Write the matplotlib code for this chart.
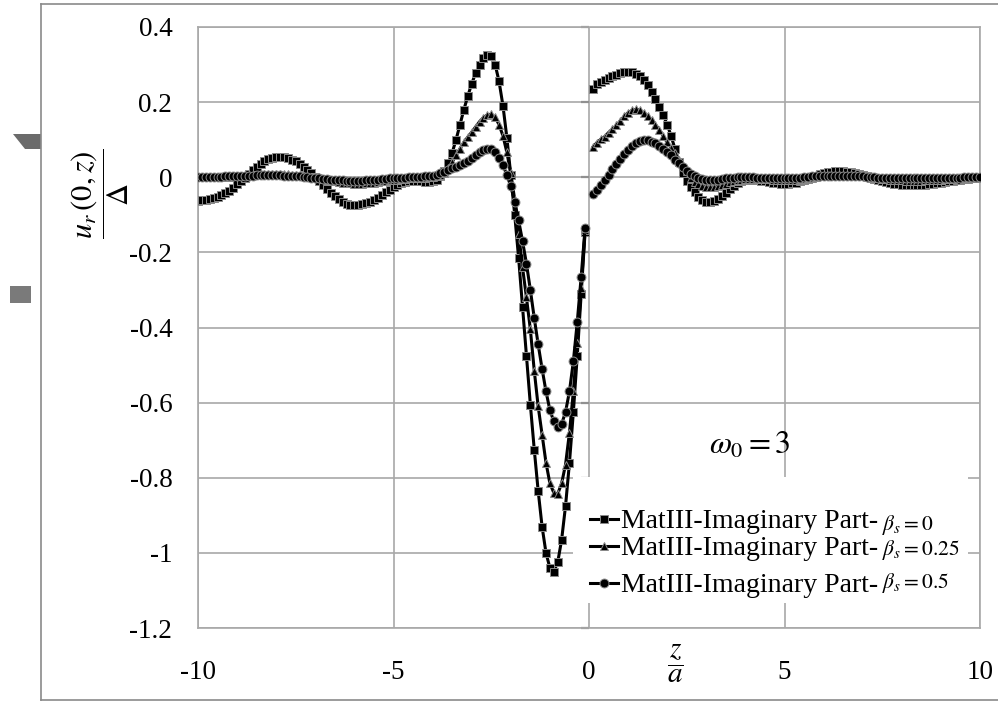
import numpy as np
import matplotlib
matplotlib.use("Agg")
import matplotlib.pyplot as plt
from matplotlib.lines import Line2D
from matplotlib.patches import Polygon, Rectangle

plt.rcParams["font.family"] = ["Liberation Serif", "DejaVu Serif"]
plt.rcParams["mathtext.fontset"] = "stix"

W, H = 998, 702

# sample positions (0.1 steps on either side of the source plane)
z_left = np.arange(-100, 0) / 10.0
z_right = np.arange(1, 101) / 10.0

# beta_s = 0
b0_left = [
    -0.062, -0.061, -0.060, -0.058, -0.055, -0.052, -0.047, -0.042, -0.036, -0.028,
    -0.019, -0.010, -0.001, 0.009, 0.019, 0.028, 0.036, 0.043, 0.048, 0.052,
    0.054, 0.054, 0.053, 0.051, 0.047, 0.042, 0.036, 0.028, 0.020, 0.011,
    0.001, -0.010, -0.020, -0.031, -0.042, -0.051, -0.059, -0.065, -0.070, -0.073,
    -0.074, -0.074, -0.072, -0.069, -0.065, -0.060, -0.054, -0.047, -0.040, -0.033,
    -0.027, -0.021, -0.016, -0.013, -0.011, -0.010, -0.010, -0.011, -0.012, -0.012,
    -0.011, -0.006, 0.003, 0.016, 0.037, 0.065, 0.100, 0.140, 0.180, 0.216,
    0.249, 0.277, 0.300, 0.317, 0.325, 0.322, 0.300, 0.255, 0.190, 0.105,
    0.005, -0.100, -0.215, -0.345, -0.475, -0.605, -0.725, -0.835, -0.930, -1.000,
    -1.040, -1.050, -1.025, -0.965, -0.875, -0.760, -0.625, -0.475, -0.310, -0.145,
]
b0_right = [
    0.235, 0.247, 0.254, 0.259, 0.264, 0.269, 0.273, 0.277, 0.279, 0.280,
    0.279, 0.276, 0.269, 0.259, 0.245, 0.228, 0.207, 0.186, 0.165, 0.140,
    0.110, 0.075, 0.040, 0.012, -0.010, -0.027, -0.040, -0.052, -0.060, -0.065,
    -0.066, -0.063, -0.058, -0.050, -0.041, -0.031, -0.023, -0.016, -0.011, -0.008,
    -0.007, -0.007, -0.008, -0.009, -0.011, -0.013, -0.015, -0.016, -0.017, -0.017,
    -0.017, -0.016, -0.014, -0.011, -0.008, -0.004, 0.000, 0.004, 0.008, 0.011,
    0.013, 0.015, 0.016, 0.016, 0.016, 0.015, 0.013, 0.011, 0.008, 0.005,
    0.002, -0.002, -0.005, -0.008, -0.011, -0.013, -0.015, -0.017, -0.019, -0.020,
    -0.021, -0.021, -0.021, -0.021, -0.021, -0.020, -0.019, -0.018, -0.016, -0.014,
    -0.013, -0.011, -0.010, -0.008, -0.007, -0.005, -0.004, -0.003, -0.002, -0.001,
]

# beta_s = 0.25
b25_left = [
    0.000, 0.000, 0.001, 0.001, 0.001, 0.001, 0.001, 0.001, 0.001, 0.002,
    0.002, 0.003, 0.004, 0.005, 0.006, 0.007, 0.008, 0.008, 0.009, 0.009,
    0.009, 0.009, 0.009, 0.008, 0.007, 0.006, 0.005, 0.004, 0.003, 0.001,
    0.000, -0.002, -0.004, -0.006, -0.008, -0.010, -0.012, -0.014, -0.015, -0.016,
    -0.017, -0.017, -0.017, -0.016, -0.015, -0.014, -0.013, -0.011, -0.010, -0.008,
    -0.007, -0.006, -0.005, -0.004, -0.003, -0.003, -0.002, -0.002, -0.001, 0.000,
    0.001, 0.003, 0.006, 0.011, 0.024, 0.041, 0.058, 0.076, 0.093, 0.107,
    0.120, 0.134, 0.148, 0.159, 0.166, 0.168, 0.160, 0.140, 0.110, 0.066,
    0.010, -0.060, -0.150, -0.240, -0.320, -0.405, -0.515, -0.610, -0.685, -0.760,
    -0.815, -0.840, -0.843, -0.815, -0.765, -0.680, -0.570, -0.440, -0.295, -0.140,
]
b25_right = [
    0.080, 0.092, 0.101, 0.108, 0.119, 0.128, 0.138, 0.150, 0.162, 0.172,
    0.178, 0.181, 0.179, 0.172, 0.164, 0.152, 0.140, 0.127, 0.109, 0.093,
    0.079, 0.064, 0.047, 0.031, 0.016, -0.003, -0.012, -0.018, -0.023, -0.026,
    -0.026, -0.026, -0.024, -0.021, -0.018, -0.013, -0.010, -0.008, -0.006, -0.005,
    -0.004, -0.004, -0.004, -0.004, -0.005, -0.005, -0.006, -0.006, -0.007, -0.007,
    -0.007, -0.007, -0.006, -0.005, -0.004, -0.003, -0.001, 0.000, 0.002, 0.003,
    0.004, 0.005, 0.006, 0.007, 0.007, 0.007, 0.006, 0.005, 0.004, 0.003,
    0.001, 0.000, -0.001, -0.003, -0.004, -0.005, -0.006, -0.007, -0.008, -0.008,
    -0.009, -0.009, -0.009, -0.009, -0.009, -0.008, -0.008, -0.007, -0.006, -0.006,
    -0.005, -0.004, -0.004, -0.003, -0.002, -0.002, -0.001, -0.001, 0.000, 0.000,
]

# beta_s = 0.5
b50_left = [
    0.001, 0.001, 0.001, 0.001, 0.001, 0.001, 0.001, 0.002, 0.002, 0.002,
    0.002, 0.003, 0.003, 0.004, 0.004, 0.005, 0.005, 0.005, 0.005, 0.005,
    0.005, 0.005, 0.004, 0.004, 0.003, 0.003, 0.002, 0.001, 0.000, -0.001,
    -0.002, -0.003, -0.004, -0.005, -0.006, -0.007, -0.008, -0.008, -0.009, -0.009,
    -0.009, -0.009, -0.009, -0.008, -0.008, -0.007, -0.006, -0.005, -0.004, -0.003,
    -0.002, -0.002, -0.001, -0.001, 0.000, 0.000, 0.001, 0.001, 0.002, 0.003,
    0.004, 0.007, 0.010, 0.014, 0.019, 0.024, 0.028, 0.033, 0.038, 0.044,
    0.052, 0.060, 0.066, 0.073, 0.076, 0.075, 0.068, 0.052, 0.032, 0.006,
    -0.024, -0.065, -0.115, -0.170, -0.230, -0.300, -0.375, -0.445, -0.510, -0.570,
    -0.620, -0.650, -0.666, -0.657, -0.625, -0.570, -0.490, -0.385, -0.265, -0.135,
]
b50_right = [
    -0.045, -0.033, -0.021, -0.007, 0.007, 0.021, 0.034, 0.048, 0.062, 0.073,
    0.083, 0.091, 0.097, 0.100, 0.100, 0.095, 0.090, 0.084, 0.076, 0.068,
    0.058, 0.047, 0.037, 0.026, 0.016, 0.008, 0.002, -0.002, -0.005, -0.006,
    -0.007, -0.008, -0.007, -0.005, -0.003, -0.002, -0.001, 0.000, 0.000, 0.000,
    0.000, 0.000, -0.001, -0.001, -0.001, -0.002, -0.002, -0.002, -0.002, -0.002,
    -0.002, -0.002, -0.001, -0.001, 0.000, 0.001, 0.002, 0.002, 0.003, 0.003,
    0.004, 0.004, 0.004, 0.004, 0.004, 0.004, 0.003, 0.003, 0.002, 0.002,
    0.001, 0.000, 0.000, -0.001, -0.001, -0.002, -0.002, -0.002, -0.003, -0.003,
    -0.003, -0.003, -0.003, -0.003, -0.003, -0.003, -0.002, -0.002, -0.002, -0.002,
    -0.001, -0.001, -0.001, -0.001, -0.001, 0.000, 0.000, 0.000, 0.000, 0.000,
]

beta_labels = [r"$\beta_s = 0$", r"$\beta_s = 0.25$", r"$\beta_s = 0.5$"]
legend_text = "MatIII-Imaginary Part-"

x_ticks = [-10, -5, 0, 5, 10]
y_ticks = [0.4, 0.2, 0, -0.2, -0.4, -0.6, -0.8, -1, -1.2]
y_ticklabels = ["0.4", "0.2", "0", "-0.2", "-0.4", "-0.6", "-0.8", "-1", "-1.2"]

GRID = "#a8a8a8"
EDGE = "#8a8a8a"


def px(x, y):
    """Pixel position -> figure fraction."""
    return x / W, 1 - y / H


fig = plt.figure(figsize=(W / 100, H / 100), dpi=100)
ax = fig.add_axes([198 / W, 1 - 628 / H, (980 - 198) / W, (628 - 27) / H])

ax.set_xlim(-10, 10)
ax.set_ylim(-1.2, 0.4)
ax.set_xticks(x_ticks)
ax.set_xticklabels([str(t) for t in x_ticks])
ax.set_yticks(y_ticks)
ax.set_yticklabels(y_ticklabels)
ax.tick_params(length=0, labelsize=19.5, colors="black")
ax.tick_params(axis="y", pad=18.5)
ax.tick_params(axis="x", pad=23)
ax.grid(True, color=GRID, linewidth=1.2, zorder=0)
ax.set_axisbelow(True)
for sp in ax.spines.values():
    sp.set_color(GRID)
    sp.set_linewidth(1.2)

# vertical axis crosses at z = 0 with short outside ticks
for yt in y_ticks:
    ax.plot([-0.2, 0], [yt, yt], color="#909090", lw=1.6, zorder=1,
            clip_on=False, solid_capstyle="butt")

styles = [
    dict(marker="s", markersize=5.4),
    dict(marker="^", markersize=5.4),
    dict(marker="o", markersize=6.4),
]
series = [(b0_left, b0_right), (b25_left, b25_right), (b50_left, b50_right)]
for (left, right), st in zip(series, styles):
    for zz, vv in ((z_left, left), (z_right, right)):
        ax.plot(zz, vv, color="black", lw=2.2, markerfacecolor="black",
                markeredgecolor="#8a8a8a", markeredgewidth=0.7, zorder=3, **st)

# legend: white panel, handles and two-size labels
x0, y0 = px(573, 603)
x1, y1 = px(968, 477)
fig.add_artist(Rectangle((x0, y0), x1 - x0, y1 - y0, transform=fig.transFigure,
                         facecolor="white", edgecolor="none", zorder=2.5))
entry_mid = [519, 546, 583]
entry_base = [528, 555, 592]
beta_base = [530, 555, 588]
for i, st in enumerate(styles):
    _, ym = px(0, entry_mid[i])
    hx0, _ = px(590, 0)
    hx1, _ = px(618, 0)
    fig.add_artist(Line2D([hx0, hx1], [ym, ym], transform=fig.transFigure,
                          color="black", lw=2.2, zorder=4))
    fig.add_artist(Line2D([(hx0 + hx1) / 2], [ym], transform=fig.transFigure,
                          color="black", markerfacecolor="black",
                          markeredgecolor="#8a8a8a", markeredgewidth=0.7,
                          linestyle="none", zorder=4, **st))
    fig.text(*px(621, entry_base[i]), legend_text, fontsize=20,
             ha="left", va="baseline", zorder=5)
    fig.text(*px(882, beta_base[i]), beta_labels[i], fontsize=15.5,
             ha="left", va="baseline", zorder=5)

fig.text(*px(750, 446), r"$\omega_0 = 3$", fontsize=23, ha="center", va="center")

# axis titles
fig.text(*px(100, 194), r"$\dfrac{u_r\,(0,z)}{\Delta}$", fontsize=22,
         rotation=90, ha="center", va="center")
fig.text(*px(675, 664), r"$\dfrac{z}{a}$", fontsize=21, ha="center", va="center")

# chart-area frame and the small grey shapes at its left edge
fx0, _ = px(41, 0)
_, fy0 = px(0, 700)
_, fy1 = px(0, 4)
for xs, ys in (([fx0, fx0], [fy0, fy1]), ([fx0, 1.0], [fy1, fy1]), ([fx0, 1.0], [fy0, fy0])):
    fig.add_artist(Line2D(xs, ys, transform=fig.transFigure, color=EDGE, lw=1.2))
fig.add_artist(Polygon([px(13, 134), px(41, 134), px(41, 149), px(25, 149)],
                       closed=True, transform=fig.transFigure,
                       facecolor="#6b6b6b", edgecolor="none"))
fig.add_artist(Rectangle(px(10, 303), 21 / W, 17 / H, transform=fig.transFigure,
                         facecolor="#7a7a7a", edgecolor="none"))

fig.savefig("out.png", dpi=100)
